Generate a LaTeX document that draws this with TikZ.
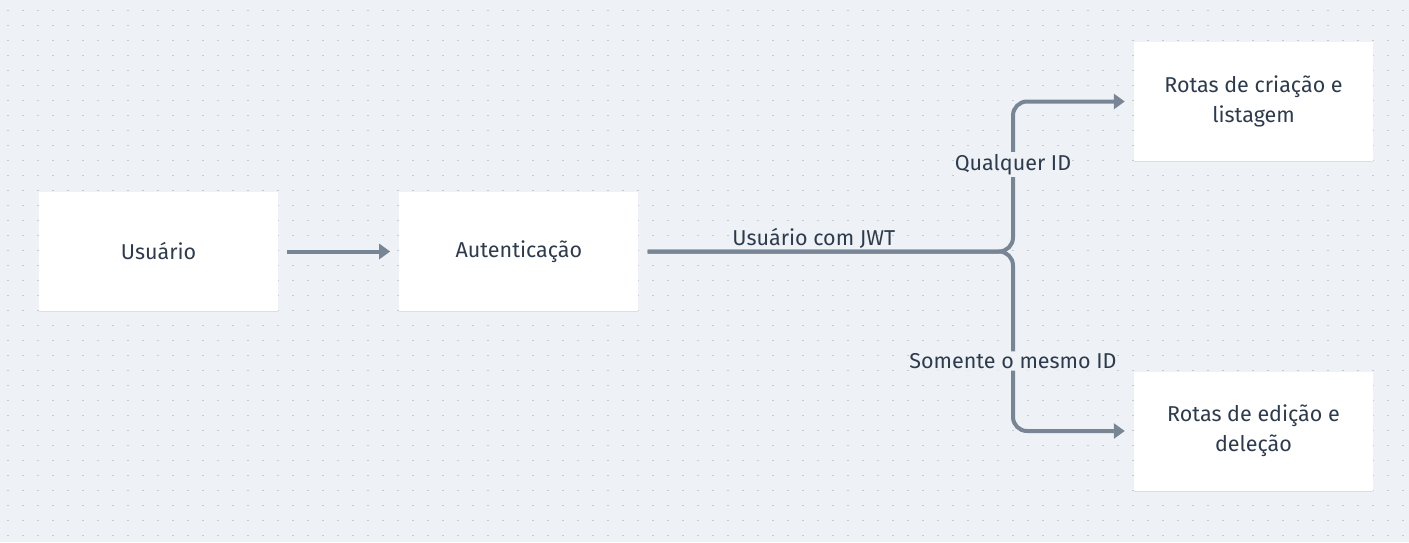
\documentclass[tikz,border=0pt]{standalone}
\usepackage{fontspec}
\setmainfont{Fira Sans}
\usetikzlibrary{positioning,arrows.meta,shadows}
\definecolor{bgc}{HTML}{EEF2F6}
\definecolor{dotc}{HTML}{C3CAD3}
\definecolor{linec}{HTML}{788595}
\definecolor{txtc}{HTML}{2E3B4C}
\tikzstyle{box}=[fill=white, rectangle, align=center, minimum width=239pt, minimum height=119pt, text=txtc, font=\fontsize{21.5}{30}\selectfont, drop shadow={shadow xshift=0pt, shadow yshift=-1pt, opacity=.08, fill=black}]
\tikzstyle{flow}=[->, draw=linec, line width=4pt, rounded corners=14pt]
\tikzstyle{tag}=[fill=bgc, text=txtc, inner sep=2pt, font=\fontsize{21.5}{24}\selectfont]

\begin{document}
\begin{tikzpicture}[x=1pt, y=-1pt, >={Triangle[length=11pt,width=15pt]}]
\fill[bgc] (0,0) rectangle (1409,542);
\useasboundingbox (0,0) rectangle (1409,542);
\foreach \i in {0,...,93} \foreach \j in {0,...,35} \fill[dotc] (7.4+15*\i, 9.9+15*\j) rectangle +(1.2,1.2);

\node[box] (user) at (158.5,251.5) {Usuário};
\node[box, right = 121pt of user] (auth) {Autenticação};
\node[box] (create) at (1253.5,101.5) {Rotas de criação e\\listagem};
\node[box] (edit) at (1253.5,431) {Rotas de edição e\\deleção};
\coordinate (fork) at (1013,251.5);

\draw[flow] ([xshift=9pt]user.east) -- ([xshift=-9pt]auth.west);
\draw[flow] ([xshift=9pt]auth.east) -- node[tag, fill=none, above, pos=0.455, yshift=-1pt] {Usuário com JWT} (fork) |- node[tag, pos=0.29] {Qualquer ID} ([xshift=-9pt]create.west);
\draw[flow] ([xshift=9pt]auth.east) -- (fork) |- node[tag, pos=0.305] {Somente o mesmo ID} ([xshift=-9pt]edit.west);

\end{tikzpicture}
\end{document}
